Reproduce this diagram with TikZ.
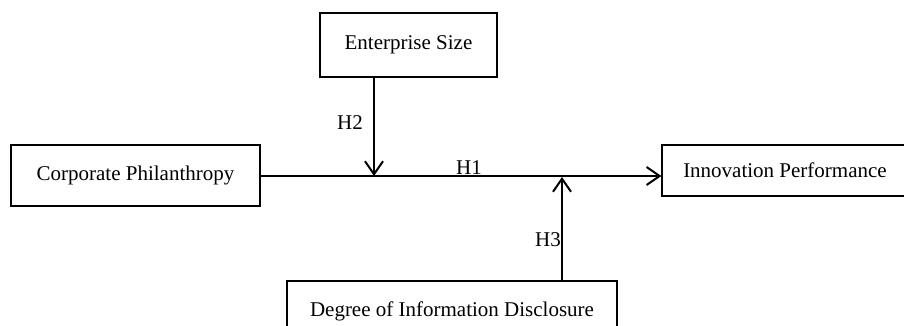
\documentclass[tikz,border=0pt]{standalone}
\usepackage{fontspec}
\setmainfont{Liberation Serif}
\usetikzlibrary{arrows.meta}
\begin{document}
\begin{tikzpicture}[x=1pt,y=-1pt,
  box/.style={draw=black,line width=1.3pt,rectangle,inner sep=0pt,font=\fontsize{21}{25}\selectfont},
  conn/.style={draw=black,line width=2pt,-{Straight Barb[length=13pt,width=18pt,line width=2pt]}},
  lbl/.style={font=\fontsize{21}{25}\selectfont,inner sep=0pt}]
\useasboundingbox (0,0) rectangle (904,326);
\node[box,minimum width=177pt,minimum height=64pt] (es) at (408.5,45) {Enterprise Size};
\node[box,minimum width=249pt,minimum height=61pt] (cp) at (135.5,175.5) {Corporate Philanthropy};
\node[box,minimum width=246pt,minimum height=51pt] (ip) at (785,170.5) {Innovation Performance};
\node[box,minimum width=330pt,minimum height=60pt] (dd) at (452,311) {Degree of Information Disclosure};
\coordinate (m2) at (374,176);
\coordinate (m3) at (562,177);
\draw[conn] (cp.east |- 0,176) -- (ip.west |- 0,176);
\draw[conn] (es.south -| m2) -- (m2);
\draw[conn] (dd.north -| m3) -- (m3);
\node[lbl] (h2) at (350,123) {H2};
\node[lbl] (h1) at (469,168) {H1};
\node[lbl] (h3) at (548,240) {H3};
\end{tikzpicture}
\end{document}
